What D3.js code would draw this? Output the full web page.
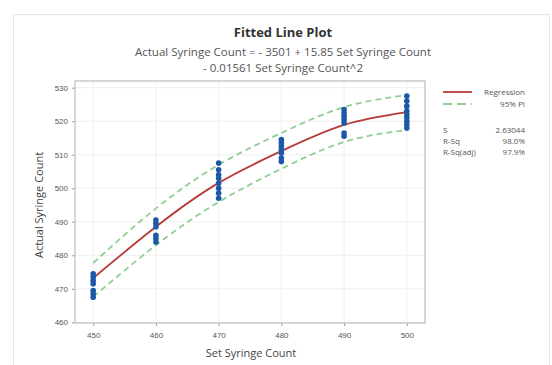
<!DOCTYPE html>
<html>
<head>
<meta charset="utf-8">
<script src="https://cdn.jsdelivr.net/npm/d3@7"></script>
<style>
  body { margin: 0; background: #fff; }
  svg { font-family: "Open Sans", "DejaVu Sans", sans-serif; }
</style>
</head>
<body>
<svg width="552" height="365"></svg>
<script>
// x positions of the set counts
const setCounts = [450, 460, 470, 480, 490, 500];

// observed actual counts at each set count
const observed = [
  [474.5, 473.5, 472.5, 471.5, 469.5, 468.5, 467.5],
  [490.5, 489.5, 488.5, 486, 485, 484],
  [507.5, 505.5, 504, 503, 501.5, 500, 498.5, 497],
  [514.5, 513.5, 512.5, 511.5, 510.5, 509, 508],
  [523.5, 522.5, 521.5, 520.5, 519.5, 516.5, 515.5],
  [527.5, 526, 524.5, 523, 522, 521, 520, 519, 518]
];

// fitted values and 95% prediction interval
const fitted = [473.2, 488.5, 501.6, 511.1, 518.9, 522.7];
const piUpper = [477.7, 494, 507, 516.5, 524.2, 527.8];
const piLower = [467.6, 483, 495.9, 505.8, 513.8, 517.4];

const yTicks = [460, 470, 480, 490, 500, 510, 520, 530];
const statLabels = ['S', 'R-Sq', 'R-Sq(adj)'];
const statValues = ['2.63044', '98.0%', '97.9%'];

const svg = d3.select('svg');

// outer panel border
svg.append('rect')
  .attr('x', 13.5).attr('y', 14.5)
  .attr('width', 536).attr('height', 360)
  .attr('fill', 'none').attr('stroke', '#e3e3e3');

const plotL = 75, plotR = 425, plotT = 81, plotB = 323;

const x = d3.scaleLinear().domain([447.1, 502.9]).range([plotL, plotR]);
const y = d3.scaleLinear().domain([459.8, 532]).range([plotB, plotT]);

// grid
svg.append('g').selectAll('line').data(setCounts).join('line')
  .attr('x1', d => x(d)).attr('x2', d => x(d))
  .attr('y1', plotT).attr('y2', plotB)
  .attr('stroke', '#efefef');
svg.append('g').selectAll('line').data(yTicks).join('line')
  .attr('x1', plotL).attr('x2', plotR)
  .attr('y1', d => y(d)).attr('y2', d => y(d))
  .attr('stroke', '#efefef');

// axes
const xAxis = svg.append('g')
  .attr('transform', `translate(0, ${plotB})`)
  .call(d3.axisBottom(x).tickValues(setCounts).tickSize(3).tickPadding(6));
const yAxis = svg.append('g')
  .attr('transform', `translate(${plotL}, 0)`)
  .call(d3.axisLeft(y).tickValues(yTicks).tickSize(3).tickPadding(4));
[xAxis, yAxis].forEach(a => {
  a.select('.domain').remove();
  a.selectAll('line').attr('stroke', '#999');
  a.selectAll('text').attr('fill', '#555').style('font-size', '8px');
});

// plot frame
svg.append('rect')
  .attr('x', plotL).attr('y', plotT)
  .attr('width', plotR - plotL).attr('height', plotB - plotT)
  .attr('fill', 'none').attr('stroke', '#c9c9c9').attr('stroke-width', 1.5);

const line = arr => d3.line()
  .x((d, i) => x(setCounts[i]))
  .y(d => y(d))
  .curve(d3.curveNatural)(arr);

// prediction interval
[piUpper, piLower].forEach(arr => {
  svg.append('path')
    .attr('d', line(arr))
    .attr('fill', 'none')
    .attr('stroke', '#8fcf92')
    .attr('stroke-width', 1.8)
    .attr('stroke-dasharray', '6,4');
});

// regression curve
svg.append('path')
  .attr('d', line(fitted))
  .attr('fill', 'none')
  .attr('stroke', '#b83a3a')
  .attr('stroke-width', 1.8);

// observations
const pts = observed.flatMap((vals, i) => vals.map(v => ({ x: setCounts[i], y: v })));
svg.append('g').selectAll('circle').data(pts).join('circle')
  .attr('cx', d => x(d.x))
  .attr('cy', d => y(d.y))
  .attr('r', 2.8)
  .attr('fill', '#1b59a8');

// titles
svg.append('text')
  .attr('x', 283).attr('y', 37)
  .attr('text-anchor', 'middle')
  .style('font-size', '13px').style('font-weight', 'bold')
  .attr('fill', '#333')
  .text('Fitted Line Plot');
svg.append('text')
  .attr('x', 283).attr('y', 55.5)
  .attr('text-anchor', 'middle')
  .style('font-size', '11.5px')
  .attr('fill', '#555')
  .text('Actual Syringe Count = - 3501 + 15.85 Set Syringe Count');
svg.append('text')
  .attr('x', 283).attr('y', 71.5)
  .attr('text-anchor', 'middle')
  .style('font-size', '11.5px')
  .attr('fill', '#555')
  .text('- 0.01561 Set Syringe Count^2');

svg.append('text')
  .attr('x', 251).attr('y', 357)
  .attr('text-anchor', 'middle')
  .style('font-size', '11px')
  .attr('fill', '#444')
  .text('Set Syringe Count');
svg.append('text')
  .attr('transform', 'translate(43, 205) rotate(-90)')
  .attr('text-anchor', 'middle')
  .style('font-size', '11px')
  .attr('fill', '#444')
  .text('Actual Syringe Count');

// legend
const lg = svg.append('g').style('font-size', '8px').attr('fill', '#555');
lg.append('line').attr('x1', 443).attr('x2', 472).attr('y1', 92).attr('y2', 92)
  .attr('stroke', '#b83a3a').attr('stroke-width', 1.8);
lg.append('line').attr('x1', 443).attr('x2', 472).attr('y1', 104).attr('y2', 104)
  .attr('stroke', '#8fcf92').attr('stroke-width', 1.8).attr('stroke-dasharray', '9,5');
lg.append('text').attr('x', 525).attr('y', 95).attr('text-anchor', 'end').text('Regression');
lg.append('text').attr('x', 525).attr('y', 107).attr('text-anchor', 'end').text('95% PI');

statLabels.forEach((s, i) => {
  lg.append('text').attr('x', 443).attr('y', 133 + i * 11).text(s);
  lg.append('text').attr('x', 525).attr('y', 133 + i * 11).attr('text-anchor', 'end').text(statValues[i]);
});
</script>
</body>
</html>
